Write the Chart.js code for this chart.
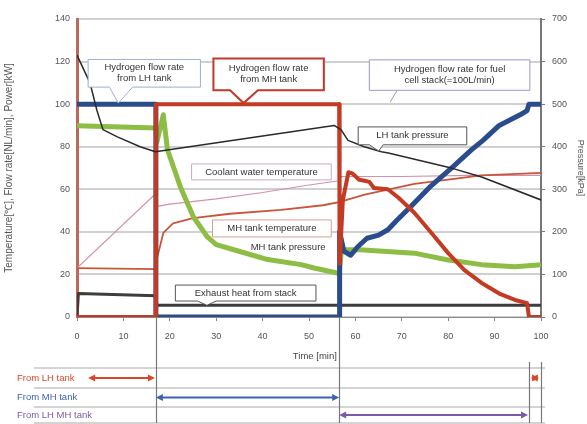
<!DOCTYPE html>
<html>
<head>
<meta charset="utf-8">
<script src="https://cdn.jsdelivr.net/npm/chart.js@4/dist/chart.umd.min.js"></script>
<style>html,body{margin:0;padding:0;background:#fff}</style>
</head>
<body>
<canvas id="chart" width="587" height="424"></canvas>
<script>
// time [min] and values
const lhFlowT = [0, 17, 17, 56.5, 56.6, 57.5, 59, 60.5, 62.5, 65, 67, 69, 72, 76, 81, 85, 87.5, 91, 95.5, 97, 97.4, 100];
const lhFlowV = [100, 100, 0, 0, 40, 31, 29, 33, 37, 38.5, 41, 45.6, 52, 61, 70.5, 78.5, 83, 90, 95, 97, 100, 100];

const mhFlowT = [0, 17, 17, 56.5, 56.6, 57.3, 58.5, 59.3, 60.8, 62, 63, 64, 67, 69.3, 72.7, 76.4, 80, 83.5, 87.2, 91, 94.4, 97, 97.4, 100];
const mhFlowV = [0, 0, 100, 100, 25, 55, 68, 67.5, 64.5, 64, 63.5, 60.6, 60, 56, 49, 39.5, 30, 22, 16, 11, 8, 6.5, 0, 0];

// pressures in kPa (right axis)
const mhPresT = [0, 17, 17.2, 18.6, 19.5, 22.3, 25.1, 28.1, 30, 33.8, 41.1, 48.3, 51.1, 55.8, 56.5, 57, 61, 72.7, 80, 87.2, 94.4, 100];
const mhPresV = [449, 444, 410, 475, 393, 305, 235, 188, 170, 158, 135, 123, 115, 104, 102, 158, 158, 150, 134, 123, 118, 123];

const lhPresT = [0, 0.65, 2.8, 4.3, 5.6, 8.7, 13.6, 16.9, 55.4, 56.9, 58.4, 61.9, 65.6, 67.1, 80, 87.2, 100];
const lhPresV = [615, 600, 550, 485, 440, 423, 400, 388, 450, 440, 415, 400, 388, 385, 352, 329, 275];

const coolT = [0, 17, 17.2, 20, 30, 40, 50, 56.5, 57, 70, 85, 100];
const coolV = [23, 58, 52, 53, 55.5, 58.5, 62, 64, 66, 66, 66.5, 66.5];

const mhTempT = [0, 17, 17.3, 18.6, 20.7, 25, 33, 44, 53, 56.5, 62, 72.7, 87.2, 100];
const mhTempV = [23, 22.5, 28, 39.5, 44, 46.5, 48.5, 50.3, 52.5, 54, 57.5, 62.5, 66.5, 67.7];

const exhaustT = [0, 0.3, 17, 17.2, 56.5, 100];
const exhaustV = [0, 11, 10, 5.5, 5.5, 5.5];

const xTicks = [0, 10, 20, 30, 40, 50, 60, 70, 80, 90, 100];

// operating phases shown under the time axis
const phaseLabels = ['From LH tank', 'From MH tank', 'From LH MH tank'];
const phaseStart = [2.4, 17, 56.5];
const phaseEnd = [16.8, 56.5, 97.2];
const phaseColors = ['#d9472b', '#3d63b0', '#7d5aa6'];
const phaseMarks = [17, 56.5, 97.4, 100];

function pts(t, v) { return t.map((tt, i) => ({x: tt, y: v[i]})); }

const font = '"Liberation Sans", Arial, sans-serif';

// callout boxes, placed in data units
const notes = [
  {text: ['Hydrogen flow rate', 'from LH tank'], t: [2.4, 26.6], v: [108, 121], border: '#9fb0cc', lw: 1, tip: [8.9, 100.5], base: [7, 12]},
  {text: ['Hydrogen flow rate', 'from MH tank'], t: [29.4, 53.2], v: [106.5, 121.5], border: '#c0392b', lw: 2, tip: [35.9, 100.5], base: [33, 39]},
  {text: ['Hydrogen flow rate for fuel', 'cell stack(=100L/min)'], t: [63, 97.6], v: [106.5, 120.8], border: '#a494c4', lw: 1, line: [[69, 106.5], [67.5, 101]]},
  {text: ['LH tank pressure'], t: [60.6, 84], v: [80.9, 89.3], border: '#555', lw: 1, tip: [65, 78], base: [63, 66]},
  {text: ['Coolant water temperature'], t: [24.7, 54.8], v: [64.4, 71.9], border: '#c9a9c0', lw: 1},
  {text: ['MH tank temperature'], t: [29.2, 54.8], v: [37.6, 45.6], border: '#d7a090', lw: 1},
  {text: ['MH tank pressure'], t: [36, 55], v: [30, 35], noFill: true},
  {text: ['Exhaust heat from stack'], t: [21.2, 51.5], v: [7.5, 15], border: '#555', lw: 1, tip: [28, 5.5], base: [26, 30]}
];

const annotate = {
  id: 'annotate',
  afterDatasetsDraw(chart) {
    const {ctx, scales: {x, y}} = chart;
    ctx.save();
    ctx.font = '9.5px ' + font;
    notes.forEach(n => {
      const l = x.getPixelForValue(n.t[0]), r = x.getPixelForValue(n.t[1]);
      const top = y.getPixelForValue(n.v[1]), bot = y.getPixelForValue(n.v[0]);
      if (!n.noFill) {
        ctx.beginPath();
        ctx.moveTo(l, top); ctx.lineTo(r, top); ctx.lineTo(r, bot);
        if (n.tip) {
          ctx.lineTo(x.getPixelForValue(n.base[1]), bot);
          ctx.lineTo(x.getPixelForValue(n.tip[0]), y.getPixelForValue(n.tip[1]));
          ctx.lineTo(x.getPixelForValue(n.base[0]), bot);
        }
        ctx.lineTo(l, bot); ctx.closePath();
        ctx.fillStyle = '#fff'; ctx.fill();
        if (n.border) { ctx.strokeStyle = n.border; ctx.lineWidth = n.lw; ctx.stroke(); }
      }
      if (n.line) {
        ctx.beginPath();
        ctx.moveTo(x.getPixelForValue(n.line[0][0]), y.getPixelForValue(n.line[0][1]));
        ctx.lineTo(x.getPixelForValue(n.line[1][0]), y.getPixelForValue(n.line[1][1]));
        ctx.stroke();
      }
      ctx.fillStyle = '#333'; ctx.textAlign = 'center'; ctx.textBaseline = 'middle';
      const cx = (l + r) / 2, cy = (top + bot) / 2;
      n.text.forEach((s, i) => ctx.fillText(s, cx, cy + (i - (n.text.length - 1) / 2) * 11));
    });
    ctx.restore();
  },
  afterDraw(chart) {
    const {ctx, chartArea: a, scales: {x}} = chart;
    ctx.save();
    // time axis title
    ctx.font = '9.5px ' + font; ctx.fillStyle = '#444';
    ctx.textAlign = 'right'; ctx.textBaseline = 'middle';
    ctx.fillText('Time [min]', x.getPixelForValue(56), a.bottom + 39);
    // phase table
    const rows = [a.bottom + 51, a.bottom + 71, a.bottom + 90, a.bottom + 106];
    ctx.strokeStyle = '#d4d4d4'; ctx.lineWidth = 2;
    rows.forEach(yy => { ctx.beginPath(); ctx.moveTo(34, yy); ctx.lineTo(545, yy); ctx.stroke(); });
    ctx.strokeStyle = '#777'; ctx.lineWidth = 1.2;
    phaseMarks.forEach((t, i) => {
      const xx = Math.round(x.getPixelForValue(t)) + 0.5;
      ctx.beginPath(); ctx.moveTo(xx, i < 2 ? a.bottom : a.bottom + 45); ctx.lineTo(xx, rows[3]); ctx.stroke();
    });
    phaseLabels.forEach((s, i) => {
      const yy = (rows[i] + rows[i + 1]) / 2;
      ctx.fillStyle = phaseColors[i]; ctx.textAlign = 'left';
      ctx.fillText(s, 17, yy);
      const segs = [[phaseStart[i], phaseEnd[i]]];
      if (i === 0) segs.push([97.8, 99.6]);
      segs.forEach(([t0, t1]) => {
        const x0 = x.getPixelForValue(t0), x1 = x.getPixelForValue(t1);
        ctx.strokeStyle = phaseColors[i]; ctx.lineWidth = 2;
        ctx.beginPath(); ctx.moveTo(x0 + 3, yy); ctx.lineTo(x1 - 3, yy); ctx.stroke();
        [[x0, 1], [x1, -1]].forEach(([px, d]) => {
          ctx.beginPath(); ctx.moveTo(px, yy); ctx.lineTo(px + d * 7, yy - 3.5); ctx.lineTo(px + d * 7, yy + 3.5);
          ctx.closePath(); ctx.fill();
        });
      });
    });
    ctx.restore();
  }
};

new Chart(document.getElementById('chart').getContext('2d'), {
  type: 'line',
  data: {
    datasets: [
      {label: 'Hydrogen flow rate from LH tank', data: pts(lhFlowT, lhFlowV), borderColor: '#2b4c8c', borderWidth: 5, yAxisID: 'y', order: 2},
      {label: 'Hydrogen flow rate from MH tank', data: pts(mhFlowT, mhFlowV), borderColor: '#c43a22', borderWidth: 4, yAxisID: 'y', order: 1},
      {label: 'MH tank pressure', data: pts(mhPresT, mhPresV), borderColor: '#8dbd45', borderWidth: 5, yAxisID: 'y2', order: 3},
      {label: 'LH tank pressure', data: pts(lhPresT, lhPresV), borderColor: '#2a2a2a', borderWidth: 1.5, yAxisID: 'y2', order: 0},
      {label: 'Coolant water temperature', data: pts(coolT, coolV), borderColor: '#d58fae', borderWidth: 1.2, yAxisID: 'y', order: 5},
      {label: 'MH tank temperature', data: pts(mhTempT, mhTempV), borderColor: '#c8563a', borderWidth: 1.8, yAxisID: 'y', order: 4},
      {label: 'Exhaust heat from stack', data: pts(exhaustT, exhaustV), borderColor: '#3d3d3d', borderWidth: 3, yAxisID: 'y', order: 6}
    ]
  },
  options: {
    responsive: false,
    animation: false,
    devicePixelRatio: 1,
    layout: {padding: {top: 19, left: 0, right: 0, bottom: 0}},
    elements: {point: {radius: 0}, line: {tension: 0, borderJoinStyle: 'round'}},
    plugins: {legend: {display: false}, tooltip: {enabled: false}},
    scales: {
      x: {
        type: 'linear', min: 0, max: 100,
        afterBuildTicks: s => { s.ticks = xTicks.map(v => ({value: v})); },
        afterFit: s => { s.height = 107; },
        grid: {drawOnChartArea: false, tickLength: 4, color: '#888'},
        border: {color: '#888', width: 1},
        ticks: {padding: 10, color: '#555', font: {size: 9, family: font}, maxRotation: 0}
      },
      y: {
        position: 'left', min: 0, max: 140,
        ticks: {stepSize: 20, padding: 7, color: '#555', font: {size: 9, family: font}},
        afterFit: s => { s.width = 77; },
        grid: {color: '#d0d0d0', lineWidth: 2, drawTicks: false},
        border: {color: '#b96a58', width: 3},
        title: {display: true, text: 'Temperature[℃], Flow rate[NL/min], Power[kW]', color: '#555', font: {size: 10, family: font}, padding: 3}
      },
      y2: {
        position: 'right', min: 0, max: 700,
        ticks: {stepSize: 100, padding: 7, color: '#555', font: {size: 9, family: font}},
        afterFit: s => { s.width = 46; },
        grid: {drawOnChartArea: false, tickLength: 4, color: '#777'},
        border: {color: '#777', width: 2},
        title: {display: true, text: 'Pressure[kPa]', color: '#555', font: {size: 9, family: font}, padding: 1}
      }
    }
  },
  plugins: [annotate]
});
</script>
</body>
</html>
